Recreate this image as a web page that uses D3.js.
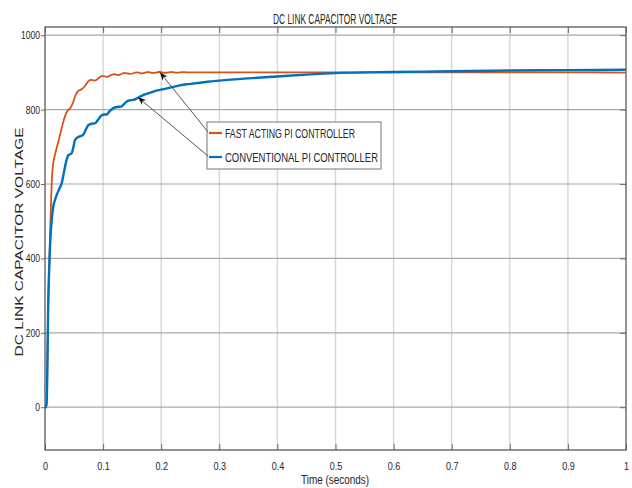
<!DOCTYPE html>
<html>
<head>
<meta charset="utf-8">
<script src="https://cdn.jsdelivr.net/npm/d3@7"></script>
<style>
  html, body { margin: 0; padding: 0; background: #fff; }
  svg { display: block; }
  text { font-family: "Liberation Sans Narrow", "Arial Narrow", "Liberation Sans", Arial, sans-serif; fill: #262626; }
</style>
</head>
<body>
<script>
// ---- data ----
const titleText = "DC LINK CAPACITOR VOLTAGE";
const xLabelText = "Time (seconds)";
const yLabelText = "DC LINK CAPACITOR VOLTAGE";
const xTicks = [0, 0.1, 0.2, 0.3, 0.4, 0.5, 0.6, 0.7, 0.8, 0.9, 1];
const xTickLabels = ["0", "0.1", "0.2", "0.3", "0.4", "0.5", "0.6", "0.7", "0.8", "0.9", "1"];
const yTicks = [0, 200, 400, 600, 800, 1000];
const seriesNames = ["FAST ACTING PI CONTROLLER", "CONVENTIONAL PI CONTROLLER"];

const fastT = [0, 0.002, 0.003, 0.0057, 0.0078, 0.0092, 0.011, 0.0125, 0.0143, 0.019, 0.024, 0.029, 0.034, 0.038, 0.041, 0.044, 0.048, 0.053, 0.057, 0.061, 0.064, 0.068, 0.073, 0.077, 0.081, 0.085, 0.089, 0.094, 0.098, 0.102, 0.106, 0.110, 0.115, 0.119, 0.123, 0.127, 0.131, 0.135, 0.139, 0.143, 0.147, 0.151, 0.155, 0.159, 0.163, 0.167, 0.171, 0.175, 0.179, 0.183, 0.187, 0.191, 0.195, 0.199, 0.203, 0.207, 0.211, 0.215, 0.22, 0.225, 0.23, 0.235, 0.24, 0.25, 0.3, 0.4, 0.5, 0.6, 0.7, 0.8, 0.9, 1.0];
const fastV = [0, 0, 19, 288, 400, 490, 580, 630, 656, 690, 720, 752, 780, 795, 800, 805, 818, 840, 850, 853, 856, 862, 873, 879, 880, 878, 880, 887, 890, 890, 888, 890, 894, 895, 894, 893, 895, 898, 898, 897, 896, 897, 899.5, 900, 898.5, 897.5, 898.5, 900.5, 900.5, 899, 898.5, 899, 901, 901, 899.5, 899, 899.5, 900.5, 900.5, 899.5, 899.5, 900.5, 900.5, 900, 900, 900, 900, 900, 900, 900, 900, 899.5];

const convT = [0, 0.002, 0.003, 0.0057, 0.0078, 0.0098, 0.012, 0.0143, 0.017, 0.020, 0.024, 0.0287, 0.033, 0.037, 0.040, 0.043, 0.046, 0.049, 0.0516, 0.057, 0.062, 0.066, 0.070, 0.0745, 0.080, 0.086, 0.091, 0.0975, 0.102, 0.106, 0.111, 0.1176, 0.124, 0.131, 0.136, 0.1406, 0.146, 0.152, 0.158, 0.1635, 0.169, 0.175, 0.180, 0.186, 0.192, 0.198, 0.21, 0.221, 0.232, 0.244, 0.256, 0.267, 0.28, 0.3, 0.35, 0.4, 0.45, 0.5, 0.55, 0.6, 0.7, 0.8, 0.9, 1.0];
const convV = [0, 0, 19, 288, 400, 468, 510, 540, 556, 570, 585, 602, 635, 664, 677, 680, 683, 700, 718, 726, 729, 733, 745, 758, 762, 763, 772, 785, 787, 787, 795, 804, 807, 808, 815, 822, 825, 826, 830, 835, 839, 842, 845, 848, 851, 853, 857, 861, 865, 868, 870, 872, 875, 878, 884, 889, 894, 898, 900, 901, 903, 905, 906, 907];

// annotation targets (data coords)
const arrowTargets = [[0.198, 900], [0.16, 833]];

// ---- layout ----
const W = 632, H = 488;
const plot = { left: 45, right: 626, top: 27, bottom: 450 };
const colors = ["#D95319", "#0072BD"];

const svg = d3.select("body").append("svg").attr("width", W).attr("height", H);

const x = d3.scaleLinear().domain([0, 1]).range([plot.left, plot.right]);
const y = d3.scaleLinear().domain([-115, 1022]).range([plot.bottom, plot.top]);

function squeeze(sel, f) {
  sel.each(function () {
    const L = this.getComputedTextLength();
    d3.select(this).attr("textLength", L * f).attr("lengthAdjust", "spacingAndGlyphs");
  });
}

// background
svg.append("rect").attr("width", W).attr("height", H).attr("fill", "#fff");

// gridlines
svg.append("g").selectAll("line").data(xTicks.slice(1, -1)).join("line")
  .attr("x1", d => x(d)).attr("x2", d => x(d))
  .attr("y1", plot.top).attr("y2", plot.bottom)
  .attr("stroke", "#d6d6d6").attr("stroke-width", 1.4);
svg.append("g").selectAll("line").data(yTicks).join("line")
  .attr("x1", plot.left).attr("x2", plot.right)
  .attr("y1", d => y(d)).attr("y2", d => y(d))
  .attr("stroke", "#a8a8a8").attr("stroke-width", 1.2);

// axes
const xAxisB = d3.axisBottom(x).tickValues(xTicks).tickSize(-6).tickFormat((d, i) => xTickLabels[i]).tickPadding(12);
const gx = svg.append("g").attr("transform", `translate(0,${plot.bottom})`).call(xAxisB);
gx.select(".domain").remove();
gx.selectAll("line").attr("stroke", "#6a6a6a");
gx.selectAll("text").attr("font-size", 11).attr("fill", "#333");
gx.selectAll("text").call(squeeze, 0.82);

const gxt = svg.append("g").attr("transform", `translate(0,${plot.top})`)
  .call(d3.axisTop(x).tickValues(xTicks).tickSize(-6).tickFormat(""));
gxt.select(".domain").remove();
gxt.selectAll("line").attr("stroke", "#6a6a6a");

const yAxisL = d3.axisLeft(y).tickValues(yTicks).tickSize(4).tickPadding(1).tickFormat(d3.format("d"));
const gy = svg.append("g").attr("transform", `translate(${plot.left},0)`).call(yAxisL);
gy.select(".domain").remove();
gy.selectAll("line").attr("stroke", "#6a6a6a");
gy.selectAll("text").attr("font-size", 11).attr("fill", "#333");
gy.selectAll("text").call(squeeze, 0.78);

const gyr = svg.append("g").attr("transform", `translate(${plot.right},0)`)
  .call(d3.axisRight(y).tickValues(yTicks).tickSize(-6).tickFormat(""));
gyr.select(".domain").remove();
gyr.selectAll("line").attr("stroke", "#6a6a6a");

// box
svg.append("rect")
  .attr("x", plot.left).attr("y", plot.top)
  .attr("width", plot.right - plot.left).attr("height", plot.bottom - plot.top)
  .attr("fill", "none").attr("stroke", "#5a5a5a").attr("stroke-width", 1.3);

// lines
const line = d3.line().x(d => x(d[0])).y(d => y(d[1])).curve(d3.curveMonotoneX);
const fastData = fastT.map((t, i) => [t, fastV[i]]);
const convData = convT.map((t, i) => [t, convV[i]]);
svg.append("path").datum(fastData).attr("d", line)
  .attr("fill", "none").attr("stroke", colors[0]).attr("stroke-width", 1.8);
svg.append("path").datum(convData).attr("d", line)
  .attr("fill", "none").attr("stroke", colors[1]).attr("stroke-width", 2.4);

// legend
const leg = { x: 207, y: 122, w: 174, h: 47 };
svg.append("rect").attr("x", leg.x).attr("y", leg.y).attr("width", leg.w).attr("height", leg.h)
  .attr("fill", "#fff").attr("stroke", "#8c8c8c").attr("stroke-width", 1.2);
const rowsY = [133, 157];
const legTextLen = [130, 153];
seriesNames.forEach((name, i) => {
  svg.append("line").attr("x1", leg.x + 2).attr("x2", leg.x + 15)
    .attr("y1", rowsY[i]).attr("y2", rowsY[i])
    .attr("stroke", colors[i]).attr("stroke-width", 2.2);
  svg.append("text").attr("x", leg.x + 18).attr("y", rowsY[i] + 5)
    .attr("font-size", 13.5).attr("fill", "#222").text(name)
    .attr("textLength", legTextLen[i]).attr("lengthAdjust", "spacingAndGlyphs");
});

// arrows
svg.append("defs").append("marker")
  .attr("id", "ah").attr("viewBox", "0 0 10 10").attr("refX", 10).attr("refY", 5)
  .attr("markerWidth", 8).attr("markerHeight", 8).attr("orient", "auto")
  .append("path").attr("d", "M0,1 L10,5 L0,9 L3,5 Z").attr("fill", "#111");
arrowTargets.forEach((tg, i) => {
  svg.append("line")
    .attr("x1", leg.x + 1).attr("y1", rowsY[i] - 1)
    .attr("x2", x(tg[0])).attr("y2", y(tg[1]))
    .attr("stroke", "#555").attr("stroke-width", 1)
    .attr("marker-end", "url(#ah)");
});

// title & axis labels
svg.append("text").attr("x", 335).attr("y", 24).attr("text-anchor", "middle")
  .attr("font-size", 14).attr("fill", "#222").text(titleText)
  .attr("textLength", 124).attr("lengthAdjust", "spacingAndGlyphs");
svg.append("text").attr("x", 335).attr("y", 484).attr("text-anchor", "middle")
  .attr("font-size", 12).attr("fill", "#222").text(xLabelText)
  .attr("textLength", 68).attr("lengthAdjust", "spacingAndGlyphs");
svg.append("text").attr("transform", "translate(23,242) rotate(-90)")
  .attr("text-anchor", "middle")
  .style("font-family", "'Liberation Sans', Arial, sans-serif")
  .attr("font-size", 10).attr("fill", "#222").text(yLabelText)
  .attr("textLength", 229).attr("lengthAdjust", "spacingAndGlyphs");
</script>
</body>
</html>
